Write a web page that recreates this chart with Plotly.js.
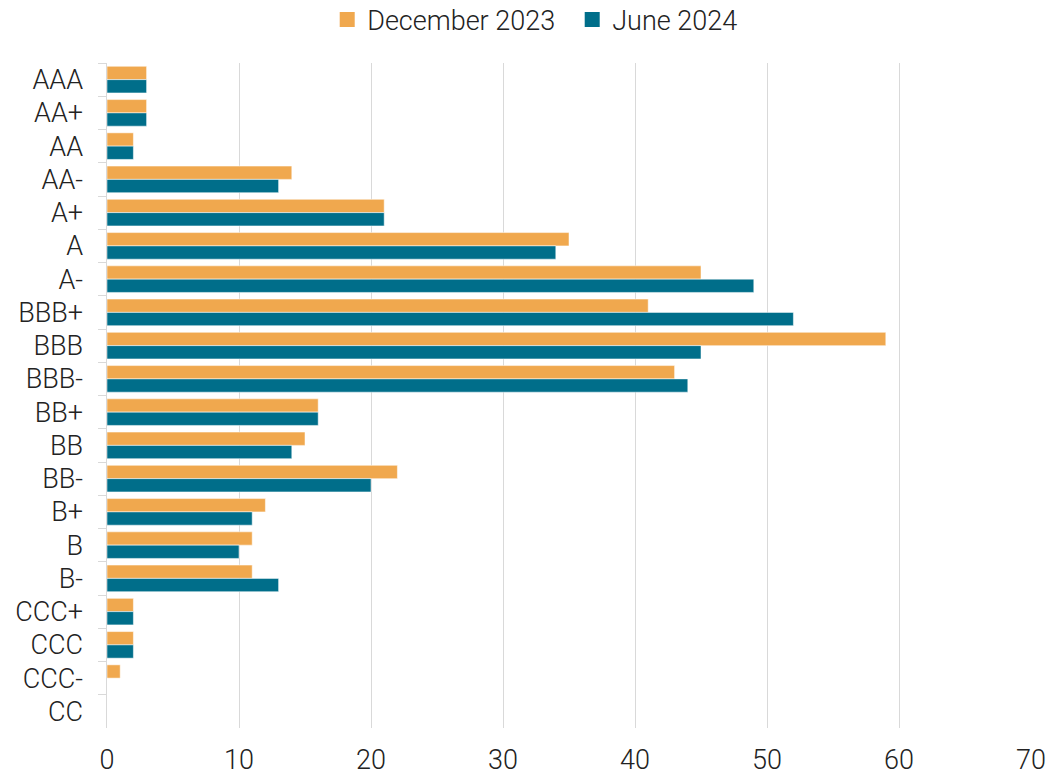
<!DOCTYPE html>
<html>
<head>
<meta charset="utf-8">
<script src="https://cdn.plot.ly/plotly-3.0.1.min.js"></script>
<style>html,body{margin:0;padding:0;background:#fff;}#chart{width:1048px;height:776px;}</style>
</head>
<body>
<div id="chart"></div>
<script>
const categories = ["AAA","AA+","AA","AA-","A+","A","A-","BBB+","BBB","BBB-","BB+","BB","BB-","B+","B","B-","CCC+","CCC","CCC-","CC"];
const dec2023 = [3,3,2,14,21,35,45,41,59,43,16,15,22,12,11,11,2,2,1,0];
const jun2024 = [3,3,2,13,21,34,49,52,45,44,16,14,20,11,10,13,2,2,0,0];
const seriesNames = ["December 2023","June 2024"];
const seriesColors = ["#F0A84E","#006E8A"];
const xTicks = [0,10,20,30,40,50,60,70];

const fontFam = "Roboto, 'Noto Sans', sans-serif";
const bars = [dec2023, jun2024].map((vals, i) => ({
  type:"bar", orientation:"h", name:seriesNames[i], y:categories, x:vals, showlegend:false,
  marker:{color:seriesColors[i], line:{color:"rgba(255,255,255,0.5)", width:1}}
}));
const legendTraces = seriesNames.map((n, i) => ({
  type:"scatter", mode:"markers", name:n, x:[null], y:[null], showlegend:true,
  marker:{symbol:"square", size:15, color:seriesColors[i]}
}));
const layout = {
  width:1048, height:776,
  margin:{l:107, r:17, t:63, b:48},
  paper_bgcolor:"#fff", plot_bgcolor:"#fff",
  font:{family:fontFam, size:27, color:"#222", weight:300},
  barmode:"group", bargap:0.2, bargroupgap:0,
  showlegend:true,
  legend:{orientation:"h", x:0.546, xref:"container", xanchor:"center", y:1-20/776, yref:"container", yanchor:"middle",
          font:{family:fontFam, size:27, color:"#222", weight:300}, itemwidth:20, tracegroupgap:0,
          entrywidth:200, entrywidthmode:"pixels"},
  xaxis:{range:[0,70], tickvals:xTicks, showgrid:true, gridcolor:"#d9d9d9", gridwidth:1,
         zeroline:false, showline:false, ticks:"outside", ticklen:8, tickcolor:"rgba(0,0,0,0)",
         tickfont:{family:fontFam, size:27, color:"#222", weight:300}, fixedrange:true},
  yaxis:{type:"category", autorange:"reversed", showgrid:false, zeroline:false,
         showline:true, linecolor:"#d9d9d9", linewidth:1.5, ticks:"outside", tickson:"boundaries",
         ticklen:8, tickcolor:"#d9d9d9", ticklabelstandoff:17,
         tickfont:{family:fontFam, size:27, color:"#222", weight:300}}
};
Plotly.newPlot("chart", bars.concat(legendTraces), layout, {displayModeBar:false, staticPlot:true});
</script>
</body>
</html>
